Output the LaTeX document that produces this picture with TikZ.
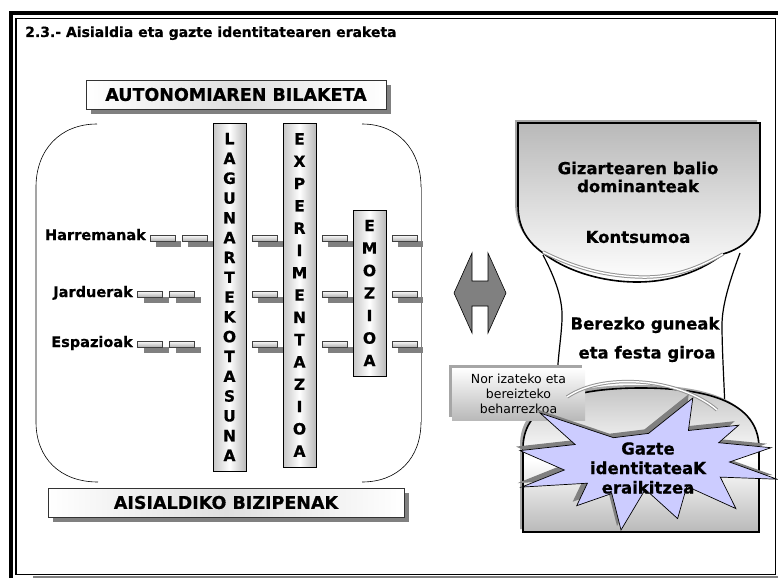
\documentclass[tikz,border=0pt]{standalone}
\usepackage{fontspec}
\setmainfont{DejaVu Sans}[BoldFeatures={FakeBold=0.6}]
\usetikzlibrary{shadows}
\definecolor{starfill}{HTML}{CCCCFF}
\begin{document}
\begin{tikzpicture}[x=1pt,y=-1pt,
  titletxt/.style={font=\fontsize{14}{17}\selectfont\bfseries, inner sep=0, anchor=base west},
  rowlbl/.style={font=\fontsize{14.5}{17}\selectfont\bfseries, inner sep=0, anchor=base east},
  capbox/.style={draw=black!80, line width=0.6pt, left color=white, right color=white, middle color=gray!25,
     font=\fontsize{17.5}{19}\selectfont\bfseries, inner sep=0,
     general shadow={fill=gray, shadow xshift=5pt, shadow yshift=-5pt}},
  vbar/.style={draw=black, line width=0.8pt, left color=gray!45, right color=gray!55, middle color=white,
     minimum width=33pt, inner sep=0, align=center},
  piece/.style={draw=black!75, line width=0.6pt, top color=white, bottom color=gray!60,
     minimum width=25pt, minimum height=6pt, inner sep=0,
     general shadow={fill=gray, shadow xshift=6pt, shadow yshift=-6pt}},
  bigtxt/.style={font=\fontsize{16.5}{18}\selectfont\bfseries, inner sep=0, align=center},
  ribbon/.style={draw=gray!85, double=white, double distance=1.4pt, line width=1pt},
  ulshadow/.style={general shadow={fill=gray!70, shadow xshift=-3pt, shadow yshift=3pt}}
]
\useasboundingbox (0,0) rectangle (778,578);

% outer frame
\draw[line width=4pt] (11,578) -- (11,13) -- (778,13);
\draw[line width=1.2pt] (16,18.5) rectangle (775.5,574.5);
\draw[gray, line width=2pt] (33,577) -- (778,577);

\node[titletxt] (title) at (25,37) {2.3.- Aisialdia eta gazte identitatearen eraketa};

% rounded frame (left part)
\draw[line width=0.6pt] (97,124) .. controls (60,124) and (36,150) .. (36,187) -- (36,422) .. controls (36,458) and (60,482) .. (98,482);
\draw[line width=0.6pt] (362,124) .. controls (398,124) and (421,150) .. (421,187);
\draw[line width=0.6pt] (421,422) .. controls (421,458) and (398,482) .. (362,482);
\draw[gray, line width=1.6pt] (421.5,187) -- (421.5,422);

\node[capbox, minimum width=300pt, minimum height=29pt] (auto) at (236,94.5) {AUTONOMIAREN BILAKETA};
\node[capbox, minimum width=356pt, minimum height=29pt] (bizi) at (226,502.5) {AISIALDIKO BIZIPENAK};

% small pieces
\foreach \x [count=\i] in {162.5,194.5,264.5,334.5,404.5}
  \node[piece] (h\i) at (\x,238) {};
\foreach \x [count=\i] in {150,182,264.5,334.5,404.5} {
  \node[piece] (j\i) at (\x,294) {};
  \node[piece] (e\i) at (\x,344) {};
}

\node[rowlbl] (harr) at (146,240) {Harremanak};
\node[rowlbl] (jard) at (133,297) {Jarduerak};
\node[rowlbl] (espa) at (133,347) {Espazioak};

% vertical bars
\node[vbar, minimum height=348pt, font=\fontsize{15.5}{19.8}\selectfont\bfseries] (lagun) at (229.5,297)
  {L\\A\\G\\U\\N\\A\\R\\T\\E\\K\\O\\T\\A\\S\\U\\N\\A};
\node[vbar, minimum height=344pt, font=\fontsize{15.5}{22.3}\selectfont\bfseries] (exp) at (299.5,295)
  {E\\X\\P\\E\\R\\I\\M\\E\\N\\T\\A\\Z\\I\\O\\A};
\node[vbar, minimum height=166pt, font=\fontsize{15.5}{22.5}\selectfont\bfseries] (emo) at (369.5,293)
  {E\\M\\O\\Z\\I\\O\\A};

% double arrow
\draw[fill=gray, line width=0.6pt] (454,293) -- (472,253) -- (472,281) -- (488,281) -- (488,253) -- (506,293)
  -- (488,333) -- (488,306) -- (472,306) -- (472,333) -- cycle;

% hourglass sides
\draw[line width=1.2pt] (543,255) .. controls (556,280) and (563,300) .. (562,320) .. controls (561,340) and (558,355) .. (557,380);
\draw[line width=1.2pt] (740,253) .. controls (730,280) and (722,305) .. (722,325) .. controls (722,350) and (724,380) .. (725,410);

% dome
\draw[line width=1.6pt, top color=gray!45, bottom color=gray!55, middle color=white, ulshadow]
  (523,532) -- (523,448) .. controls (523,402) and (575,388) .. (641,388)
  .. controls (707,388) and (759,402) .. (759,448) -- (759,532) -- cycle;

% top shape
\draw[line width=1.6pt, top color=gray!55, bottom color=white, ulshadow]
  (518,123) -- (760,123) -- (760,212) .. controls (760,232) and (745,248) .. (723,254)
  .. controls (700,272) and (670,282) .. (637,282) .. controls (600,282) and (565,270) .. (543,253)
  .. controls (525,240) and (518,225) .. (518,205) -- cycle;
\draw[ribbon] (543,252) .. controls (575,268) and (605,276) .. (640,277) .. controls (675,278) and (700,267) .. (723,254);

\node[bigtxt] (giz) at (638,177) {Gizartearen balio\\dominanteak};
\node[bigtxt] (kont) at (638,237) {Kontsumoa};
\node[bigtxt] (berez) at (645,325) {Berezko guneak};
\node[bigtxt] (festa) at (647,354) {eta festa giroa};

% Nor izateko box
\node[top color=white, bottom color=gray!55, minimum width=133pt, minimum height=52pt, ulshadow,
  font=\fontsize{12.5}{15}\selectfont, align=center, inner sep=0] (nor) at (518.5,394)
  {Nor izateko eta\\bereizteko\\beharrezkoa};

\draw[ribbon] (567,397) .. controls (585,385) and (610,380) .. (640,382) .. controls (670,384) and (700,395) .. (717,410);

% starburst
\draw[fill=starfill, line width=0.7pt, general shadow={fill=gray, shadow xshift=-4pt, shadow yshift=4pt}]
  (648.5,433.4) -- (692.8,398) -- (688.4,430.5) -- (738.7,425.2) -- (718.7,442.7) -- (771,447.7)
  -- (729.5,462) -- (777,479.2) -- (720.3,477.1) -- (735.9,508.6) -- (686.8,486.3) -- (677.6,518.6)
  -- (645.3,489.3) -- (621,530) -- (611.8,493.5) -- (576.7,505.7) -- (587.4,483.2) -- (521.6,487.1)
  -- (564.3,470) -- (520,450.6) -- (575.1,444.5) -- (540,413) -- (613.5,437.7) -- cycle;
\node[bigtxt, font=\fontsize{16.5}{19.5}\selectfont\bfseries] (gazte) at (648,468) {Gazte\\identitateaK\\eraikitzea};

\end{tikzpicture}
\end{document}
